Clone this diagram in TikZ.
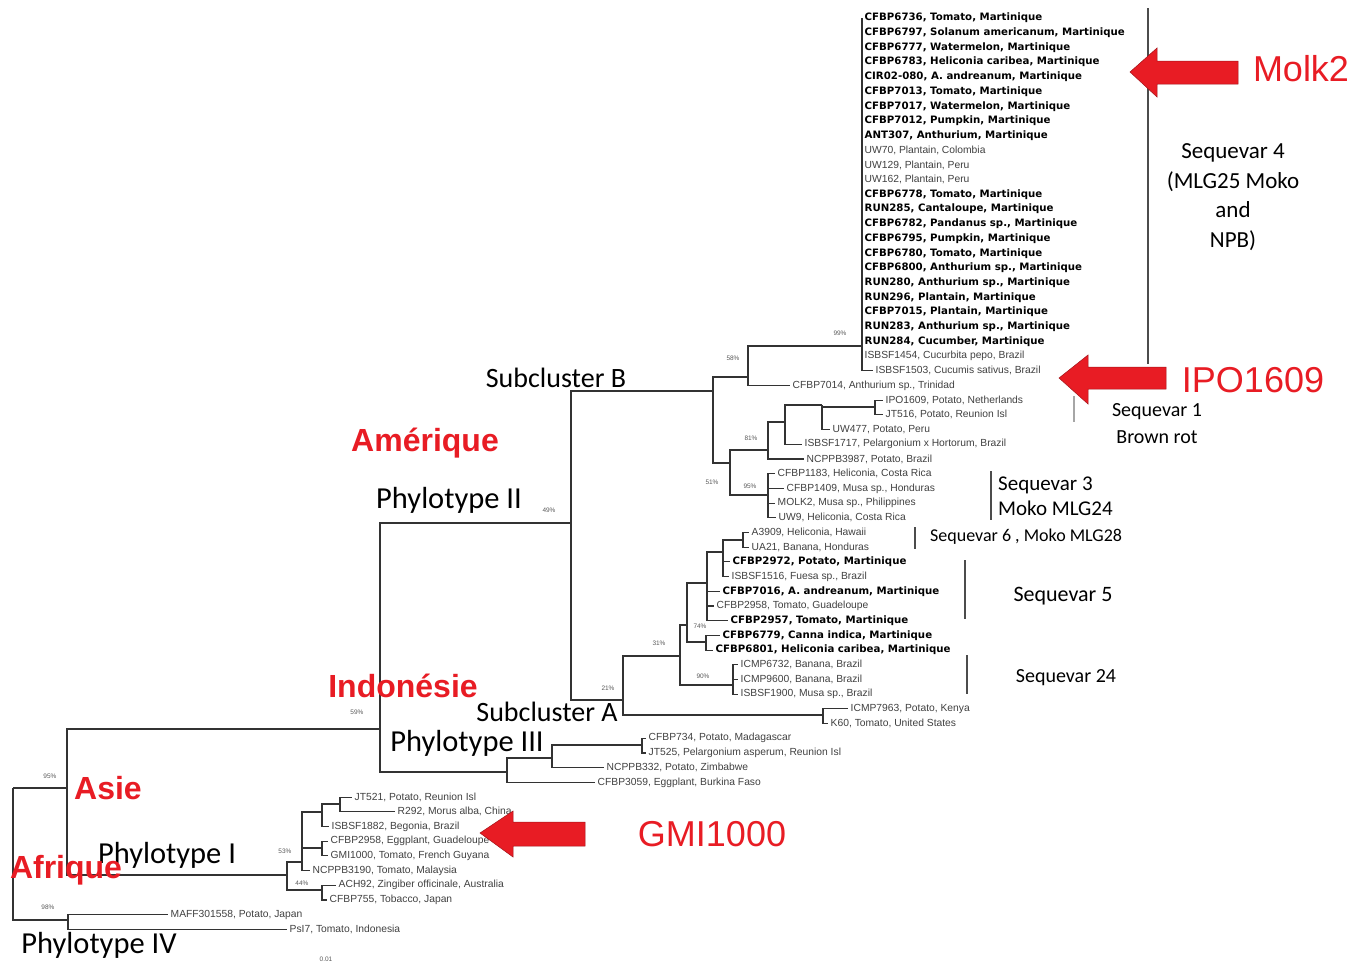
\documentclass[tikz,border=0pt]{standalone}
\usepackage{fontspec}
\setmainfont{Carlito}
\newfontfamily\arialfont{Liberation Sans}
\newfontfamily\dejafont{DejaVu Sans}
\definecolor{redlab}{RGB}{232,28,36}
\tikzset{
  branch/.style={draw=black!80, line width=1.1pt},
  leafb/.style={anchor=west, inner xsep=2.5pt, inner ysep=0pt, font=\dejafont\bfseries\fontsize{10.2}{11}\selectfont},
  leafl/.style={anchor=west, inner xsep=2.5pt, inner ysep=0pt, text=black!75, font=\arialfont\fontsize{10.3}{11}\selectfont},
  boot/.style={inner sep=0pt, text=black!65, font=\arialfont\fontsize{6.5}{7}\selectfont},
  region/.style={inner sep=0pt, text=redlab, font=\arialfont\bfseries\fontsize{32}{32}\selectfont},
  clade/.style={inner sep=0pt, font=\fontsize{28}{28}\selectfont},
  phylo/.style={inner sep=0pt, font=\fontsize{30.5}{30.5}\selectfont},
  seqv/.style={inner sep=0pt, align=center, font=\fontsize{20}{28}\selectfont},
  strain/.style={inner sep=0pt, text=redlab, font=\arialfont\fontsize{36}{36}\selectfont},
  bigarrow/.style={fill=redlab, draw=redlab!70!black, line width=0.5pt},
  seqbar/.style={draw=black!70, line width=1.3pt}
}
\begin{document}
\begin{tikzpicture}[x=1pt,y=-1pt]
  \useasboundingbox (0,0) rectangle (1354,964);

  % inner nodes of the tree
  \coordinate (root) at (13,788);
  \coordinate (asie) at (67,788);
  \coordinate (p4) at (68,920);
  \coordinate (p1) at (287,875);
  \coordinate (n53) at (302,862);
  \coordinate (n44) at (322,890);
  \coordinate (p1a) at (322,812);
  \coordinate (p1b) at (340,804);
  \coordinate (p1c) at (322,848);
  \coordinate (p23) at (380,729);
  \coordinate (p3) at (507,772);
  \coordinate (p3a) at (552,758);
  \coordinate (p3b) at (642,745);
  \coordinate (p2) at (571,523);
  \coordinate (sB) at (713,391);
  \coordinate (n58) at (748,377);
  \coordinate (n99) at (862,346);
  \coordinate (n51) at (730,463);
  \coordinate (n81) at (768,450);
  \coordinate (n81a) at (785,422);
  \coordinate (n81b) at (822,405);
  \coordinate (sq1) at (875,407);
  \coordinate (n95) at (768,495);
  \coordinate (sA) at (623,700);
  \coordinate (n31) at (680,656);
  \coordinate (n74) at (687,625);
  \coordinate (n707) at (707,583);
  \coordinate (n723) at (723,552);
  \coordinate (n740) at (743,540);
  \coordinate (n706) at (706,642);
  \coordinate (n90) at (733,685);
  \coordinate (nk) at (823,715);

  % sequevar 4
  \foreach \i/\k/\t in {1/leafb/{CFBP6736, Tomato, Martinique},
      2/leafb/{CFBP6797, Solanum americanum, Martinique},
      3/leafb/{CFBP6777, Watermelon, Martinique},
      4/leafb/{CFBP6783, Heliconia caribea, Martinique},
      5/leafb/{CIR02-080, A. andreanum, Martinique},
      6/leafb/{CFBP7013, Tomato, Martinique},
      7/leafb/{CFBP7017, Watermelon, Martinique},
      8/leafb/{CFBP7012, Pumpkin, Martinique},
      9/leafb/{ANT307, Anthurium, Martinique},
      10/leafl/{UW70, Plantain, Colombia},
      11/leafl/{UW129, Plantain, Peru},
      12/leafl/{UW162, Plantain, Peru},
      13/leafb/{CFBP6778, Tomato, Martinique},
      14/leafb/{RUN285, Cantaloupe, Martinique},
      15/leafb/{CFBP6782, Pandanus sp., Martinique},
      16/leafb/{CFBP6795, Pumpkin, Martinique},
      17/leafb/{CFBP6780, Tomato, Martinique},
      18/leafb/{CFBP6800, Anthurium sp., Martinique},
      19/leafb/{RUN280, Anthurium sp., Martinique},
      20/leafb/{RUN296, Plantain, Martinique},
      21/leafb/{CFBP7015, Plantain, Martinique},
      22/leafb/{RUN283, Anthurium sp., Martinique},
      23/leafb/{RUN284, Cucumber, Martinique},
      24/leafl/{ISBSF1454, Cucurbita pepo, Brazil}}
  {
    \node[\k] (s\i) at (862,{18+14.7*(\i-1)}) {\t};
    \draw[branch] (n99) |- (s\i.west);
  }
  \node[leafl] (s25) at (873,370.8) {ISBSF1503, Cucumis sativus, Brazil};

  % rest of phylotype II
  \node[leafl] (cfbp7014) at (790,385.5) {CFBP7014, Anthurium sp., Trinidad};
  \node[leafl] (ipo1609) at (883,400.2) {IPO1609, Potato, Netherlands};
  \node[leafl] (jt516) at (883,414.9) {JT516, Potato, Reunion Isl};
  \node[leafl] (uw477) at (830,429.6) {UW477, Potato, Peru};
  \node[leafl] (isbsf1717) at (802,444.3) {ISBSF1717, Pelargonium x Hortorum, Brazil};
  \node[leafl] (ncppb3987) at (804,459) {NCPPB3987, Potato, Brazil};
  \node[leafl] (cfbp1183) at (775,473.7) {CFBP1183, Heliconia, Costa Rica};
  \node[leafl] (cfbp1409) at (784,488.4) {CFBP1409, Musa sp., Honduras};
  \node[leafl] (molk2) at (775,503.1) {MOLK2, Musa sp., Philippines};
  \node[leafl] (uw9) at (776,517.8) {UW9, Heliconia, Costa Rica};
  \node[leafl] (a3909) at (749,532.5) {A3909, Heliconia, Hawaii};
  \node[leafl] (ua21) at (749,547.2) {UA21, Banana, Honduras};
  \node[leafb] (cfbp2972) at (730,561.9) {CFBP2972, Potato, Martinique};
  \node[leafl] (isbsf1516) at (729,576.6) {ISBSF1516, Fuesa sp., Brazil};
  \node[leafb] (cfbp7016) at (720,591.3) {CFBP7016, A. andreanum, Martinique};
  \node[leafl] (cfbp2958t) at (714,606) {CFBP2958, Tomato, Guadeloupe};
  \node[leafb] (cfbp2957) at (728,620.7) {CFBP2957, Tomato, Martinique};
  \node[leafb] (cfbp6779) at (720,635.4) {CFBP6779, Canna indica, Martinique};
  \node[leafb] (cfbp6801) at (713,650.1) {CFBP6801, Heliconia caribea, Martinique};
  \node[leafl] (icmp6732) at (738,664.8) {ICMP6732, Banana, Brazil};
  \node[leafl] (icmp9600) at (738,679.5) {ICMP9600, Banana, Brazil};
  \node[leafl] (isbsf1900) at (738,694.2) {ISBSF1900, Musa sp., Brazil};
  \node[leafl] (icmp7963) at (848,708.9) {ICMP7963, Potato, Kenya};
  \node[leafl] (k60) at (828,723.6) {K60, Tomato, United States};

  % phylotype III
  \node[leafl] (cfbp734) at (646,738.3) {CFBP734, Potato, Madagascar};
  \node[leafl] (jt525) at (646,753) {JT525, Pelargonium asperum, Reunion Isl};
  \node[leafl] (ncppb332) at (604,767.7) {NCPPB332, Potato, Zimbabwe};
  \node[leafl] (cfbp3059) at (595,782.4) {CFBP3059, Eggplant, Burkina Faso};

  % phylotype I
  \node[leafl] (jt521) at (352,797.1) {JT521, Potato, Reunion Isl};
  \node[leafl] (r292) at (395,811.8) {R292, Morus alba, China};
  \node[leafl] (isbsf1882) at (329,826.5) {ISBSF1882, Begonia, Brazil};
  \node[leafl] (cfbp2958e) at (328,841.2) {CFBP2958, Eggplant, Guadeloupe};
  \node[leafl] (gmi1000) at (328,855.9) {GMI1000, Tomato, French Guyana};
  \node[leafl] (ncppb3190) at (310,870.6) {NCPPB3190, Tomato, Malaysia};
  \node[leafl] (ach92) at (336,885.3) {ACH92, Zingiber officinale, Australia};
  \node[leafl] (cfbp755) at (327,900) {CFBP755, Tobacco, Japan};

  % phylotype IV
  \node[leafl] (maff) at (168,914.7) {MAFF301558, Potato, Japan};
  \node[leafl] (psi7) at (287,929.4) {PsI7, Tomato, Indonesia};

  % branches
  \foreach \a/\b in {root/asie, root/p4, p4/maff.west, p4/psi7.west,
      asie/p23, asie/p1, p1/n53, p1/n44,
      n53/p1a, n53/p1c, n53/ncppb3190.west,
      p1a/p1b, p1a/isbsf1882.west, p1b/jt521.west, p1b/r292.west,
      p1c/cfbp2958e.west, p1c/gmi1000.west,
      n44/ach92.west, n44/cfbp755.west,
      p23/p2, p23/p3, p3/p3a, p3/cfbp3059.west,
      p3a/p3b, p3a/ncppb332.west, p3b/cfbp734.west, p3b/jt525.west,
      p2/sB, p2/sA, sB/n58, sB/n51,
      n58/n99, n58/cfbp7014.west, n99/s25.west,
      n51/n81, n51/n95, n81/n81a, n81/ncppb3987.west,
      n81a/n81b, n81a/isbsf1717.west, n81b/sq1, n81b/uw477.west,
      sq1/ipo1609.west, sq1/jt516.west,
      n95/cfbp1183.west, n95/cfbp1409.west, n95/molk2.west, n95/uw9.west,
      sA/n31, sA/nk, nk/icmp7963.west, nk/k60.west,
      n31/n74, n31/n90, n74/n707, n74/n706,
      n707/n723, n707/cfbp7016.west, n707/cfbp2958t.west, n707/cfbp2957.west,
      n723/n740, n723/cfbp2972.west, n723/isbsf1516.west,
      n740/a3909.west, n740/ua21.west,
      n706/cfbp6779.west, n706/cfbp6801.west,
      n90/icmp6732.west, n90/icmp9600.west, n90/isbsf1900.west}
    \draw[branch] (\a) |- (\b);

  % bootstrap values
  \foreach \n/\x/\y/\v in {1/840/333/99, 2/733/358/58, 3/751/438/81, 4/712/482/51,
      5/750/486/95, 6/549/510/49, 7/700/626/74, 8/659/643/31, 9/703/676/90,
      10/608/688/21, 11/357/712/59, 12/50/776/95, 13/285/851/53, 14/302/883/44,
      15/48/907/98}
    \node[boot] (bs\n) at (\x,\y) {\v\%};
  \node[boot] (scl) at (326,959) {0.01};

  % clade names
  \node[clade] (lsb) at (556,378) {Subcluster B};
  \node[phylo] (lp2) at (449,500) {Phylotype II};
  \node[clade] (lsa) at (547,712) {Subcluster A};
  \node[phylo] (lp3) at (467,743) {Phylotype III};
  \node[phylo] (lp1) at (167,855) {Phylotype I};
  \node[phylo] (lp4) at (99,945) {Phylotype IV};

  \node[region] (lam) at (425,443) {Amérique};
  \node[region] (lind) at (403,686) {Indonésie};
  \node[region] (las) at (108,788) {Asie};
  \node[region] (laf) at (66,870) {Afrique};

  % sequevars
  \draw[seqbar] (1148,8) -- (1148,364);
  \draw[seqbar, draw=black!35] (1074,396) -- (1074,422);
  \draw[seqbar] (991,471) -- (991,520);
  \draw[seqbar] (915,527) -- (915,549);
  \draw[seqbar] (965,560) -- (965,619);
  \draw[seqbar] (967,655) -- (967,694);
  \node[seqv, font=\fontsize{23}{29.5}\selectfont] (sv4) at (1233,197) {Sequevar 4\\(MLG25 Moko\\and\\NPB)};
  \node[seqv, font=\fontsize{20}{27}\selectfont] (sv1) at (1157,424) {Sequevar 1\\Brown rot};
  \node[seqv, align=left, anchor=west, font=\fontsize{21}{25}\selectfont] (sv3) at (998,496) {Sequevar 3\\Moko MLG24};
  \node[seqv, anchor=west, font=\fontsize{18}{20}\selectfont] (sv6) at (930,537) {Sequevar 6 , Moko MLG28};
  \node[seqv, font=\fontsize{22}{24}\selectfont] (sv5) at (1063,596) {Sequevar 5};
  \node[seqv] (sv24) at (1066,678) {Sequevar 24};

  % strains pointed at
  \filldraw[bigarrow] (1130,72) -- (1157,48) -- (1157,61) -- (1238,61) -- (1238,84)
    -- (1157,84) -- (1157,97) -- cycle;
  \filldraw[bigarrow] (1059,378) -- (1088,355) -- (1088,367) -- (1166,367) -- (1166,389)
    -- (1088,389) -- (1088,404) -- cycle;
  \filldraw[bigarrow] (480,833) -- (513,811) -- (513,822) -- (585,822) -- (585,846)
    -- (513,846) -- (513,857) -- cycle;
  \node[strain] (tmolk) at (1301,69) {Molk2};
  \node[strain] (tipo) at (1253,380) {IPO1609};
  \node[strain] (tgmi) at (712,834) {GMI1000};
\end{tikzpicture}
\end{document}
